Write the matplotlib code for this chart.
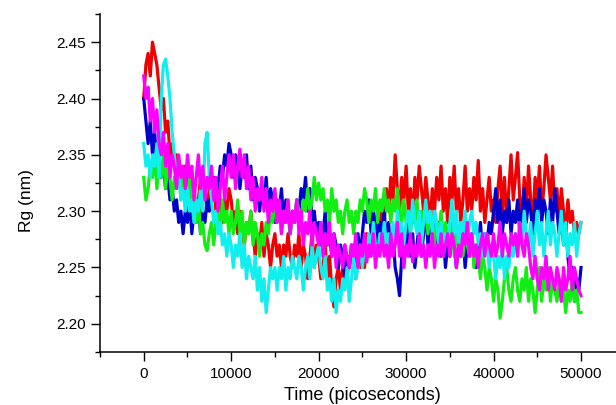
import numpy as np
import matplotlib
matplotlib.use("Agg")
import matplotlib.pyplot as plt
from matplotlib.ticker import MultipleLocator, FormatStrFormatter

plt.rcParams['font.family'] = ['Liberation Sans', 'DejaVu Sans']

step_ps = 250

rg_red = [2.40, 2.43, 2.44, 2.42, 2.45, 2.44, 2.43, 2.41, 2.39, 2.40,
          2.37, 2.38, 2.35, 2.36, 2.34, 2.35, 2.33, 2.34, 2.32, 2.34,
          2.33, 2.31, 2.33, 2.32, 2.30, 2.31, 2.33, 2.31, 2.32, 2.30,
          2.32, 2.31, 2.33, 2.30, 2.32, 2.31, 2.29, 2.31, 2.30, 2.32,
          2.31, 2.29, 2.30, 2.28, 2.30, 2.29, 2.27, 2.29, 2.28, 2.30,
          2.28, 2.26, 2.28, 2.27, 2.29, 2.26, 2.28, 2.27, 2.25, 2.27,
          2.28, 2.26, 2.27, 2.25, 2.27, 2.26, 2.28, 2.26, 2.25, 2.27,
          2.26, 2.28, 2.25, 2.27, 2.26, 2.24, 2.26, 2.28, 2.25, 2.27,
          2.26, 2.24, 2.25, 2.27, 2.24, 2.26, 2.23, 2.215, 2.24, 2.25,
          2.23, 2.25, 2.27, 2.24, 2.26, 2.25, 2.27, 2.24, 2.26, 2.25,
          2.27, 2.25, 2.28, 2.26, 2.27, 2.29, 2.27, 2.30, 2.28, 2.31,
          2.29, 2.32, 2.30, 2.33, 2.31, 2.35, 2.32, 2.30, 2.33, 2.31,
          2.34, 2.30, 2.32, 2.29, 2.33, 2.31, 2.34, 2.32, 2.30, 2.33,
          2.31, 2.29, 2.32, 2.30, 2.33, 2.31, 2.34, 2.30, 2.32, 2.29,
          2.33, 2.31, 2.34, 2.30, 2.32, 2.29, 2.31, 2.34, 2.30, 2.32,
          2.30, 2.33, 2.31, 2.345, 2.30, 2.32, 2.29, 2.31, 2.33, 2.30,
          2.31, 2.29, 2.32, 2.34, 2.30, 2.33, 2.29, 2.32, 2.35, 2.31,
          2.33, 2.352, 2.31, 2.29, 2.33, 2.30, 2.34, 2.31, 2.29, 2.33,
          2.31, 2.34, 2.30, 2.32, 2.35, 2.33, 2.31, 2.34, 2.30, 2.32,
          2.29, 2.32, 2.30, 2.28, 2.31, 2.29, 2.30, 2.28, 2.29, 2.28,
          2.29]

rg_blue = [2.40, 2.38, 2.36, 2.38, 2.35, 2.37, 2.34, 2.35, 2.33, 2.34,
           2.32, 2.33, 2.31, 2.32, 2.30, 2.31, 2.29, 2.30, 2.28, 2.30,
           2.29, 2.31, 2.28, 2.30, 2.29, 2.31, 2.28, 2.30, 2.29, 2.31,
           2.30, 2.32, 2.31, 2.33, 2.32, 2.34, 2.33, 2.35, 2.34, 2.36,
           2.35, 2.33, 2.35, 2.34, 2.32, 2.34, 2.33, 2.35, 2.32, 2.34,
           2.31, 2.33, 2.32, 2.30, 2.32, 2.31, 2.33, 2.30, 2.32, 2.31,
           2.29, 2.31, 2.30, 2.32, 2.29, 2.31, 2.30, 2.28, 2.30, 2.29,
           2.31, 2.30, 2.32, 2.31, 2.33, 2.30, 2.32, 2.29, 2.30, 2.28,
           2.29, 2.27, 2.28, 2.30, 2.27, 2.28, 2.26, 2.28, 2.27, 2.25,
           2.27, 2.26, 2.24, 2.26, 2.25, 2.27, 2.25, 2.26, 2.28, 2.26,
           2.28, 2.30, 2.29, 2.31, 2.28, 2.30, 2.29, 2.27, 2.29, 2.28,
           2.30, 2.27, 2.29, 2.26, 2.28, 2.25, 2.24, 2.225, 2.26, 2.28,
           2.27, 2.29, 2.26, 2.28, 2.25, 2.27, 2.29, 2.26, 2.28, 2.30,
           2.27, 2.29, 2.28, 2.30, 2.27, 2.29, 2.26, 2.28, 2.25, 2.27,
           2.26, 2.28, 2.27, 2.25, 2.27, 2.26, 2.28, 2.25, 2.27, 2.26,
           2.28, 2.26, 2.25, 2.27, 2.29, 2.26, 2.28, 2.27, 2.29, 2.28,
           2.30, 2.32, 2.29, 2.31, 2.28, 2.30, 2.29, 2.31, 2.28, 2.30,
           2.29, 2.31, 2.28, 2.30, 2.32, 2.29, 2.31, 2.30, 2.28, 2.31,
           2.30, 2.32, 2.29, 2.31, 2.30, 2.28, 2.31, 2.29, 2.32, 2.30,
           2.28, 2.30, 2.27, 2.29, 2.26, 2.24, 2.25, 2.22, 2.24, 2.23,
           2.25]

rg_green = [2.33, 2.31, 2.32, 2.34, 2.33, 2.35, 2.32, 2.34, 2.33, 2.35,
            2.32, 2.34, 2.33, 2.31, 2.33, 2.32, 2.34, 2.31, 2.33, 2.32,
            2.31, 2.33, 2.30, 2.32, 2.29, 2.31, 2.28, 2.29, 2.27, 2.265,
            2.28, 2.29, 2.27, 2.29, 2.30, 2.28, 2.31, 2.29, 2.30, 2.28,
            2.30, 2.28, 2.29, 2.31, 2.28, 2.30, 2.27, 2.29, 2.28, 2.30,
            2.27, 2.29, 2.28, 2.26, 2.28, 2.27, 2.29, 2.28, 2.30, 2.29,
            2.31, 2.29, 2.30, 2.28, 2.30, 2.29, 2.31, 2.28, 2.30, 2.29,
            2.31, 2.30, 2.29, 2.31, 2.30, 2.32, 2.30, 2.31, 2.33, 2.31,
            2.325, 2.31, 2.32, 2.30, 2.31, 2.29, 2.32, 2.30, 2.31, 2.29,
            2.30, 2.28, 2.30, 2.31, 2.29, 2.30, 2.28, 2.30, 2.29, 2.31,
            2.30, 2.32, 2.31, 2.29, 2.31, 2.30, 2.32, 2.29, 2.31, 2.30,
            2.32, 2.30, 2.31, 2.29, 2.31, 2.30, 2.32, 2.30, 2.29, 2.31,
            2.29, 2.30, 2.28, 2.30, 2.29, 2.31, 2.28, 2.30, 2.29, 2.30,
            2.28, 2.30, 2.29, 2.27, 2.29, 2.28, 2.30, 2.27, 2.29, 2.28,
            2.27, 2.29, 2.26, 2.28, 2.27, 2.29, 2.26, 2.28, 2.27, 2.26,
            2.28, 2.25, 2.27, 2.26, 2.24, 2.26, 2.25, 2.23, 2.25, 2.24,
            2.22, 2.24, 2.23, 2.205, 2.22, 2.24, 2.25, 2.23, 2.22, 2.24,
            2.25, 2.23, 2.22, 2.24, 2.23, 2.25, 2.22, 2.24, 2.23, 2.21,
            2.23, 2.25, 2.22, 2.24, 2.23, 2.25, 2.22, 2.24, 2.23, 2.22,
            2.24, 2.22, 2.23, 2.21, 2.23, 2.22, 2.24, 2.22, 2.23, 2.21,
            2.21]

rg_cyan = [2.36, 2.34, 2.35, 2.33, 2.35, 2.34, 2.36, 2.33, 2.40, 2.43,
           2.435, 2.42, 2.40, 2.37, 2.35, 2.33, 2.34, 2.31, 2.32, 2.30,
           2.32, 2.30, 2.31, 2.29, 2.31, 2.30, 2.32, 2.30, 2.36, 2.37,
           2.33, 2.31, 2.29, 2.30, 2.28, 2.29, 2.27, 2.28, 2.26, 2.28,
           2.27, 2.25, 2.27, 2.26, 2.28, 2.25, 2.27, 2.24, 2.26, 2.25,
           2.24, 2.26, 2.23, 2.25, 2.22, 2.24, 2.21, 2.23, 2.25, 2.24,
           2.25, 2.23, 2.25, 2.24, 2.26, 2.23, 2.25, 2.24, 2.26, 2.25,
           2.24, 2.26, 2.25, 2.23, 2.25, 2.26, 2.24, 2.27, 2.25, 2.26,
           2.27, 2.25, 2.24, 2.26, 2.23, 2.24, 2.22, 2.24, 2.21, 2.23,
           2.22, 2.24, 2.23, 2.25, 2.22, 2.24, 2.26, 2.24, 2.25, 2.27,
           2.25, 2.27, 2.26, 2.28, 2.26, 2.29, 2.27, 2.26, 2.28, 2.27,
           2.29, 2.27, 2.28, 2.26, 2.29, 2.27, 2.30, 2.28, 2.29, 2.27,
           2.29, 2.30, 2.28, 2.31, 2.29, 2.28, 2.30, 2.27, 2.29, 2.31,
           2.29, 2.30, 2.28, 2.30, 2.29, 2.27, 2.29, 2.26, 2.28, 2.27,
           2.29, 2.31, 2.28, 2.30, 2.27, 2.29, 2.28, 2.30, 2.27, 2.29,
           2.30, 2.28, 2.29, 2.27, 2.28, 2.26, 2.28, 2.27, 2.25, 2.27,
           2.26, 2.24, 2.26, 2.25, 2.27, 2.24, 2.26, 2.25, 2.27, 2.26,
           2.28, 2.26, 2.29, 2.27, 2.30, 2.28, 2.27, 2.29, 2.26, 2.28,
           2.30, 2.27, 2.29, 2.26, 2.28, 2.30, 2.27, 2.29, 2.28, 2.26,
           2.28, 2.30, 2.27, 2.29, 2.26, 2.28, 2.27, 2.29, 2.26, 2.28,
           2.29]

rg_magenta = [2.42, 2.40, 2.41, 2.38, 2.40, 2.37, 2.39, 2.36, 2.35, 2.37,
              2.34, 2.36, 2.33, 2.35, 2.34, 2.32, 2.35, 2.33, 2.34, 2.32,
              2.35, 2.33, 2.34, 2.31, 2.33, 2.35, 2.32, 2.34, 2.31, 2.33,
              2.32, 2.34, 2.31, 2.33, 2.30, 2.32, 2.34, 2.31, 2.33, 2.35,
              2.33, 2.35, 2.32, 2.34, 2.355, 2.33, 2.35, 2.32, 2.34, 2.31,
              2.33, 2.30, 2.32, 2.31, 2.33, 2.30, 2.32, 2.29, 2.31, 2.30,
              2.32, 2.29, 2.31, 2.28, 2.30, 2.29, 2.31, 2.28, 2.30, 2.29,
              2.31, 2.28, 2.30, 2.27, 2.29, 2.28, 2.30, 2.27, 2.29, 2.28,
              2.27, 2.29, 2.26, 2.28, 2.27, 2.29, 2.26, 2.28, 2.25, 2.27,
              2.26, 2.25, 2.27, 2.26, 2.25, 2.27, 2.26, 2.28, 2.25, 2.27,
              2.26, 2.28, 2.255, 2.27, 2.26, 2.28, 2.25, 2.27, 2.26, 2.28,
              2.26, 2.27, 2.25, 2.28, 2.26, 2.27, 2.29, 2.26, 2.28, 2.25,
              2.27, 2.26, 2.28, 2.255, 2.27, 2.26, 2.28, 2.26, 2.27, 2.25,
              2.27, 2.26, 2.28, 2.25, 2.27, 2.26, 2.28, 2.26, 2.27, 2.28,
              2.26, 2.28, 2.27, 2.25, 2.27, 2.26, 2.28, 2.27, 2.29, 2.26,
              2.28, 2.26, 2.27, 2.25, 2.27, 2.28, 2.26, 2.28, 2.27, 2.26,
              2.28, 2.26, 2.27, 2.29, 2.26, 2.28, 2.27, 2.26, 2.28, 2.27,
              2.28, 2.26, 2.29, 2.27, 2.26, 2.28, 2.27, 2.25, 2.24, 2.26,
              2.24, 2.23, 2.25, 2.24, 2.26, 2.23, 2.25, 2.24, 2.23, 2.25,
              2.24, 2.22, 2.25, 2.23, 2.24, 2.26, 2.23, 2.25, 2.24, 2.23,
              2.225]

series = [
    (rg_red, '#EE0000'),
    (rg_blue, '#0000CC'),
    (rg_green, '#11EE11'),
    (rg_cyan, '#11EEEE'),
    (rg_magenta, '#FF00FF'),
]

fig = plt.figure(figsize=(6.16, 4.05), dpi=100)
ax = fig.add_axes([100/616, 1 - 352/405, 516/616, 338/405])

for vals, col in series:
    t = np.arange(len(vals)) * step_ps
    ax.plot(t, vals, color=col, lw=2.3)

ax.set_xlim(-5000, 54000)
ax.set_ylim(2.175, 2.475)
ax.xaxis.set_major_locator(MultipleLocator(10000))
ax.xaxis.set_minor_locator(MultipleLocator(5000))
ax.yaxis.set_major_locator(MultipleLocator(0.05))
ax.yaxis.set_minor_locator(MultipleLocator(0.025))
ax.yaxis.set_major_formatter(FormatStrFormatter('%.2f'))

for s in ['top', 'right']:
    ax.spines[s].set_visible(False)
for s in ['left', 'bottom']:
    ax.spines[s].set_linewidth(1.1)

ax.tick_params(which='major', direction='out', length=6.5, width=1.0,
               labelsize=11, pad=4)
ax.tick_params(which='minor', direction='out', length=3.5, width=1.0)

ax.set_xticks([0, 10000, 20000, 30000, 40000, 50000])

ax.set_xlabel('Time (picoseconds)', fontsize=13)
ax.set_ylabel('Rg (nm)', fontsize=12.5)
ax.xaxis.set_label_coords((362 - 100) / 516, (352 - 395) / 338)
ax.xaxis.label.set_va('center')
ax.yaxis.set_label_coords((26 - 100) / 516, (352 - 201) / 338)
ax.yaxis.label.set_va('center')

fig.savefig('out.png', dpi=100)
